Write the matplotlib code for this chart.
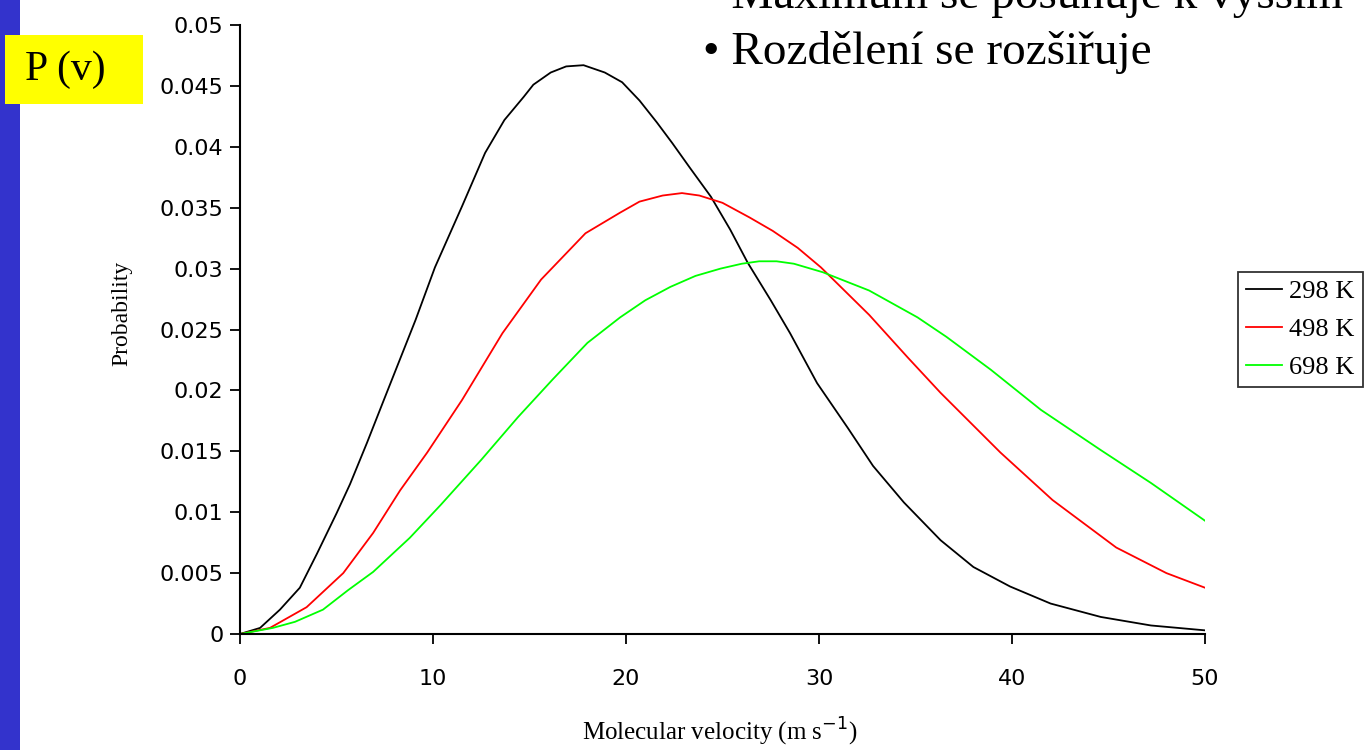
import matplotlib
matplotlib.use("Agg")
import matplotlib.pyplot as plt
from matplotlib.patches import Rectangle

# values
v_298 = [0, 1.04, 2.07, 3.1, 3.99, 5.0, 5.7, 6.58, 7.4, 7.9, 9.1, 10.1, 11.5, 12.7, 13.7, 14.7,
         15.2, 16.1, 16.9, 17.8, 18.9, 19.8, 20.7, 21.6, 22.4, 23.3, 24.4, 25.4, 26.3, 27.5,
         28.5, 29.9, 31.5, 32.8, 34.4, 36.3, 38.0, 39.9, 42.0, 44.6, 47.2, 50]
p_298 = [0, 0.0005, 0.0020, 0.0038, 0.0066, 0.0099, 0.0123, 0.0157, 0.0190, 0.0210, 0.0258,
         0.0301, 0.0351, 0.0395, 0.0422, 0.0441, 0.0451, 0.0461, 0.0466, 0.0467, 0.0461,
         0.0453, 0.0438, 0.0420, 0.0403, 0.0383, 0.0359, 0.0332, 0.0305, 0.0274, 0.0247,
         0.0206, 0.0169, 0.0138, 0.0108, 0.0077, 0.0055, 0.0039, 0.0025, 0.0014, 0.0007,
         0.0003]

v_498 = [0, 1.55, 3.45, 5.35, 6.9, 8.3, 9.7, 11.5, 13.6, 15.6, 17.9, 19.7, 20.7, 21.9,
         22.9, 23.8, 25.0, 26.4, 27.6, 28.9, 30.1, 32.6, 34.6, 36.3, 39.4, 42.1, 45.4, 48.0, 50]
p_498 = [0, 0.0005, 0.0022, 0.0050, 0.0083, 0.0118, 0.0149, 0.0192, 0.0247, 0.0291,
         0.0329, 0.0346, 0.0355, 0.0360, 0.0362, 0.0360, 0.0354, 0.0342, 0.0331, 0.0317,
         0.0301, 0.0262, 0.0227, 0.0198, 0.0149, 0.0110, 0.0071, 0.0050, 0.0038]

v_698 = [0, 1.7, 2.85, 4.3, 5.6, 6.9, 8.8, 10.4, 12.5, 14.4, 16.2, 18.0, 19.7, 21.0, 22.3,
         23.6, 24.9, 26.0, 26.9, 27.8, 28.7, 30.2, 32.6, 35.1, 36.6, 38.9, 41.5, 44.6, 47.2,
         50]
p_698 = [0, 0.0005, 0.0010, 0.0020, 0.0036, 0.0051, 0.0079, 0.0106, 0.0143, 0.0178, 0.0209,
         0.0239, 0.0260, 0.0274, 0.0285, 0.0294, 0.0300, 0.0304, 0.0306, 0.0306, 0.0304,
         0.0297, 0.0282, 0.0260, 0.0244, 0.0217, 0.0184, 0.0151, 0.0124, 0.0093]

labels = ["298 K", "498 K", "698 K"]
colors = ["black", "#ff0000", "#00ff00"]
x_ticks = [0, 10, 20, 30, 40, 50]
y_ticks = [0, 0.005, 0.01, 0.015, 0.02, 0.025, 0.03, 0.035, 0.04, 0.045, 0.05]
y_ticklabels = ["0", "0.005", "0.01", "0.015", "0.02", "0.025", "0.03", "0.035", "0.04", "0.045", "0.05"]

W, H = 1366, 750
fig = plt.figure(figsize=(W / 100, H / 100), dpi=100)
fig.patch.set_facecolor("white")

# slide decorations
fig.patches.append(Rectangle((0, 0), 20 / W, 1, transform=fig.transFigure,
                             facecolor="#3333cc", edgecolor="none", zorder=0))
fig.patches.append(Rectangle((5 / W, 1 - 104 / H), 138 / W, 69 / H, transform=fig.transFigure,
                             facecolor="#ffff00", edgecolor="none", zorder=1))
fig.text(25 / W, 1 - 70 / H, "P (v)", family="Liberation Serif", fontsize=30,
         va="center", ha="left")
# first bullet line is cut off by the top edge, as in the slide
fig.text(703 / W, 1 - 8 / H, "\u2022 Maximum se posunuje k vy\u0161\u0161\u00edm", family="Liberation Serif",
         fontsize=34, va="baseline", ha="left")
fig.text(703 / W, 1 - 64 / H, "\u2022 Rozd\u011blen\u00ed se roz\u0161i\u0159uje", family="Liberation Serif",
         fontsize=34, va="baseline", ha="left")

ax = fig.add_axes([240 / W, 1 - 634 / H, 965 / W, 609 / H])
for v, p, lab, c in zip([v_298, v_498, v_698], [p_298, p_498, p_698], labels, colors):
    ax.plot(v, p, color=c, lw=1.3, label=lab, solid_joinstyle="round")

ax.set_xlim(0, 50)
ax.set_ylim(0, 0.05)
ax.set_xticks(x_ticks)
ax.set_yticks(y_ticks)
ax.set_yticklabels(y_ticklabels)
ax.spines["top"].set_visible(False)
ax.spines["right"].set_visible(False)
ax.spines["left"].set_linewidth(1.5)
ax.spines["bottom"].set_linewidth(1.5)
ax.tick_params(axis="y", direction="out", length=7, width=1.3, pad=5, labelsize=16)
ax.tick_params(axis="x", direction="out", length=7, width=1.3, pad=18, labelsize=16)
ax.set_ylabel("Probability", family="Liberation Serif", fontsize=17)
ax.yaxis.set_label_coords(-0.112, 0.527)
ax.set_xlabel("Molecular velocity (m s$^{-1}$)", family="Liberation Serif", fontsize=18)
ax.xaxis.set_label_coords(0.497, -0.134)

leg = ax.legend(loc="upper left", bbox_to_anchor=(1238 / W, 1 - 272 / H),
                bbox_transform=fig.transFigure, frameon=True, fancybox=False,
                prop={"family": "Liberation Serif", "size": 19}, handlelength=1.35,
                handletextpad=0.3, borderpad=0.3, labelspacing=0.55, borderaxespad=0)
leg.get_frame().set_edgecolor("black")
leg.get_frame().set_linewidth(1.3)

fig.savefig("out.png", dpi=100)
